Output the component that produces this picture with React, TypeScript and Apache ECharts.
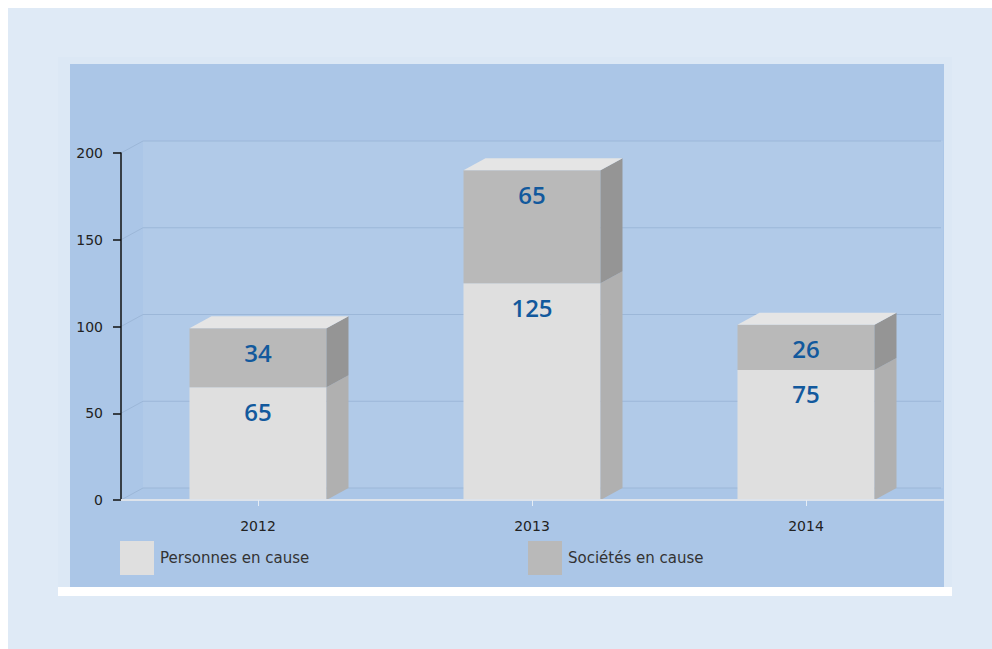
import React, { useEffect, useRef } from "react";
import * as echarts from "echarts";

const categories = ["2012", "2013", "2014"];
const personnes = [65, 125, 75];
const societes = [34, 65, 26];
const seriesNames = ["Personnes en cause", "Sociétés en cause"];
const yTicks = [0, 50, 100, 150, 200];

const DX = 22;
const DY = 12;

const FRONT = ["#dfdfdf", "#b9b9b9"];
const SIDE = ["#b0b0b0", "#959595"];
const TOP = "#e5e5e5";

function makeBarRender(serieIdx: number, isTop: boolean) {
  return (params: any, api: any) => {
    const xi = api.value(0);
    const base = api.value(1);
    const v = api.value(2);
    const p0 = api.coord([xi, base]);
    const p1 = api.coord([xi, base + v]);
    const bw = api.size([1, 0])[0] * 0.5;
    const x0 = p0[0] - bw / 2;
    const x1 = x0 + bw;
    const yb = p0[1];
    const yt = p1[1];
    const children: any[] = [
      {
        type: "rect",
        shape: { x: x0, y: yt, width: bw, height: yb - yt },
        style: { fill: FRONT[serieIdx] },
      },
      {
        type: "polygon",
        shape: {
          points: [
            [x1, yb],
            [x1 + DX, yb - DY],
            [x1 + DX, yt - DY],
            [x1, yt],
          ],
        },
        style: { fill: SIDE[serieIdx] },
      },
    ];
    if (isTop) {
      children.push({
        type: "polygon",
        shape: {
          points: [
            [x0, yt],
            [x0 + DX, yt - DY],
            [x1 + DX, yt - DY],
            [x1, yt],
          ],
        },
        style: { fill: TOP },
      });
    }
    children.push({
      type: "text",
      x: p0[0],
      y: yt + 24,
      style: {
        text: String(v),
        fill: "#12599d",
        font: '600 24px "Open Sans"',
        align: "center",
        verticalAlign: "middle",
      },
    });
    return { type: "group", children };
  };
}

function wallRender(params: any, api: any) {
  const cs = params.coordSys;
  const val = api.value(0);
  const y = api.coord([0, val])[1];
  const left = cs.x;
  const right = cs.x + cs.width;
  const children: any[] = [];
  if (params.dataIndex === 0) {
    const yTop = api.coord([0, yTicks[yTicks.length - 1]])[1];
    children.push({
      type: "rect",
      shape: { x: left + DX, y: yTop - DY, width: right - left - DX, height: y - yTop },
      style: { fill: "#b1cae8" },
    });
  }
  children.push({
    type: "polyline",
    shape: {
      points: [
        [left, y],
        [left + DX, y - DY],
        [right - 2, y - DY],
      ],
    },
    style: { stroke: "#9cb7d8", lineWidth: 1, fill: "none" },
  });
  return { type: "group", children };
}

export default function App() {
  const ref = useRef<HTMLDivElement>(null);
  useEffect(() => {
    if (!ref.current) return;
    const chart = echarts.init(ref.current, null, { renderer: "svg" });
    const pData = categories.map((_, i) => [i, 0, personnes[i]]);
    const sData = categories.map((_, i) => [i, personnes[i], societes[i]]);
    const font = '"DejaVu Sans", Verdana, sans-serif';
    chart.setOption({
      animation: false,
      backgroundColor: "#dfeaf6",
      graphic: [
        { type: "rect", z: -10, shape: { x: 50, y: 49, width: 894, height: 531 }, style: { fill: "#dce8f5" } },
        { type: "rect", z: -9, shape: { x: 62, y: 56, width: 874, height: 523 }, style: { fill: "#abc6e7" } },
        { type: "rect", z: -9, shape: { x: 50, y: 579, width: 894, height: 9 }, style: { fill: "#ffffff" } },
      ],
      grid: { left: 113, top: 145, width: 822, height: 347, containLabel: false },
      legend: [
        {
          data: [seriesNames[0]],
          left: 112,
          top: 533,
          padding: 0,
          itemWidth: 34,
          itemHeight: 34,
          icon: "rect",
          textStyle: { fontFamily: font, fontSize: 15, color: "#333", padding: [0, 0, 0, 1] },
        },
        {
          data: [seriesNames[1]],
          left: 520,
          top: 533,
          padding: 0,
          itemWidth: 34,
          itemHeight: 34,
          icon: "rect",
          textStyle: { fontFamily: font, fontSize: 15, color: "#333", padding: [0, 0, 0, 1] },
        },
      ],
      xAxis: {
        type: "category",
        data: categories,
        axisLine: { show: true, lineStyle: { color: "#dde3eb", width: 2 } },
        axisTick: { show: true, alignWithLabel: true, length: 6, lineStyle: { color: "#e6edf5" } },
        axisLabel: { fontFamily: font, fontSize: 14, color: "#222", margin: 19 },
        splitLine: { show: false },
        z: 5,
      },
      yAxis: {
        type: "value",
        min: 0,
        max: 200,
        interval: 50,
        axisLine: { show: true, lineStyle: { color: "#111", width: 1.5 } },
        axisTick: { show: true, length: 8, lineStyle: { color: "#111", width: 1.5 } },
        axisLabel: { fontFamily: font, fontSize: 14, color: "#222", margin: 18 },
        splitLine: { show: false },
        z: 5,
      },
      series: [
        {
          type: "custom",
          name: "wall",
          silent: true,
          z: 1,
          renderItem: wallRender,
          data: yTicks.map((t) => [t]),
          encode: { y: 0 },
          legendHoverLink: false,
        },
        {
          type: "custom",
          name: seriesNames[0],
          z: 3,
          itemStyle: { color: FRONT[0] },
          renderItem: makeBarRender(0, false),
          data: pData,
          encode: { x: 0, y: 2 },
        },
        {
          type: "custom",
          name: seriesNames[1],
          z: 4,
          itemStyle: { color: FRONT[1] },
          renderItem: makeBarRender(1, true),
          data: sData,
          encode: { x: 0, y: 2 },
        },
      ],
    });
    return () => chart.dispose();
  }, []);
  return (
    <div
      ref={ref}
      style={{ position: "fixed", left: 8, top: 8, width: 984, height: 641 }}
    />
  );
}
